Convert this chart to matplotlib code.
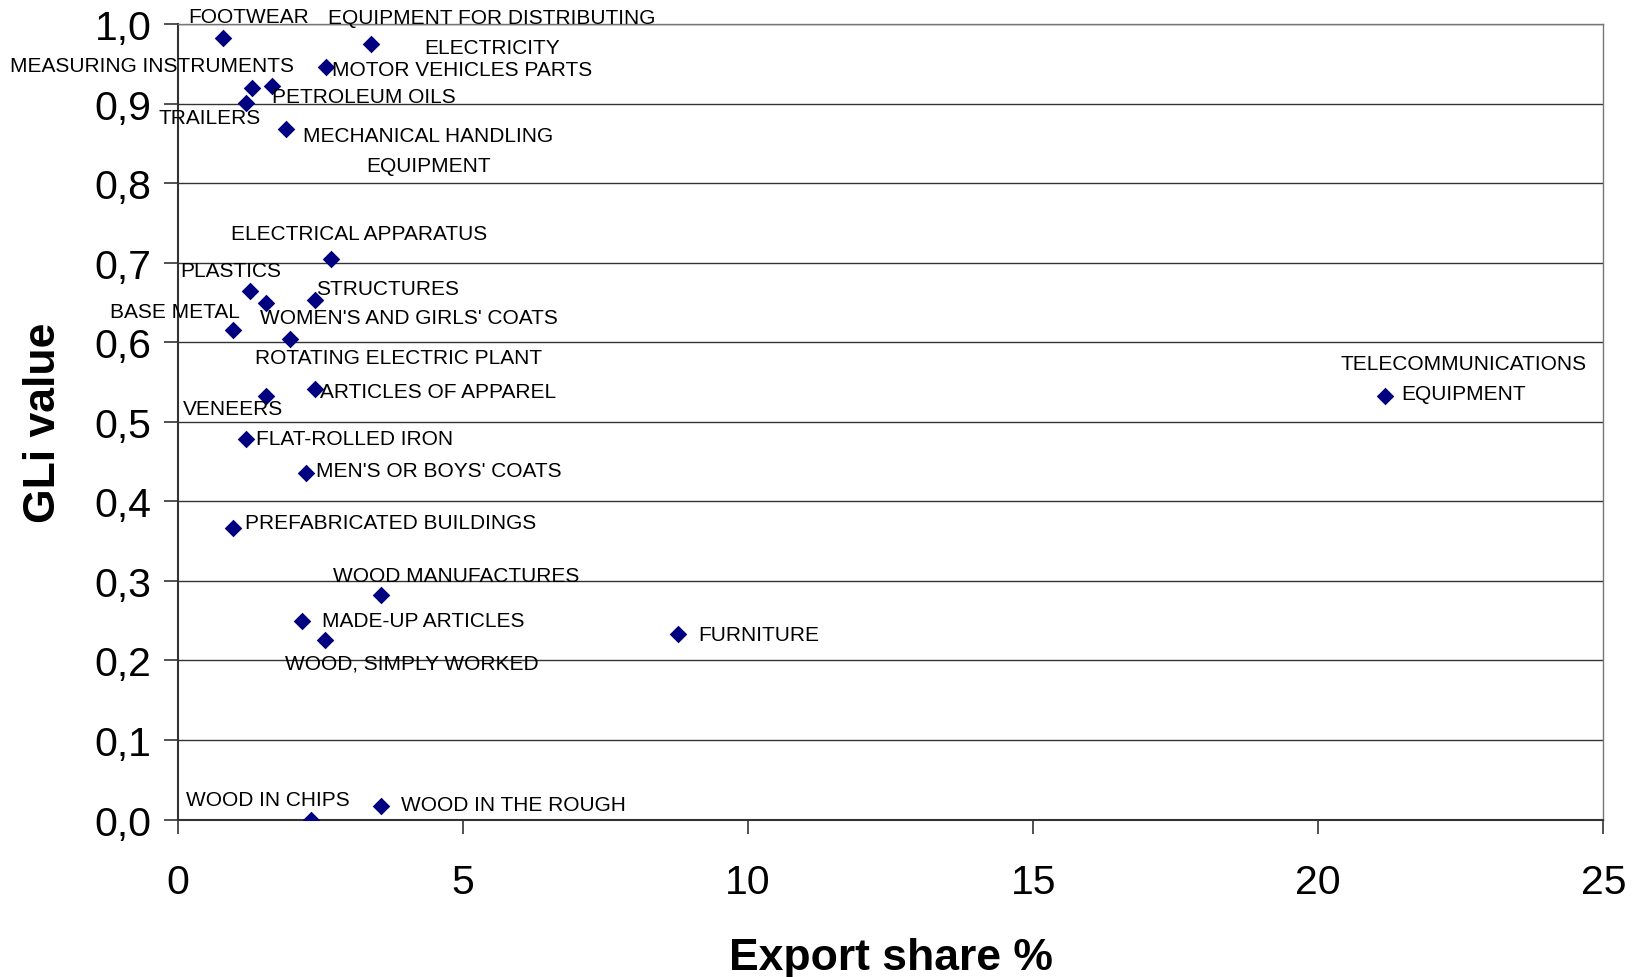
import matplotlib
matplotlib.use('Agg')
import matplotlib.pyplot as plt
from matplotlib.ticker import FuncFormatter

plt.rcParams['font.family'] = ['Liberation Sans', 'DejaVu Sans']

# products, export share (%) and GLi value
products = [
    'FOOTWEAR', 'EQUIPMENT FOR DISTRIBUTING\nELECTRICITY', 'MOTOR VEHICLES PARTS',
    'MEASURING INSTRUMENTS', 'PETROLEUM OILS', 'TRAILERS',
    'MECHANICAL HANDLING\nEQUIPMENT', 'ELECTRICAL APPARATUS', 'PLASTICS',
    'STRUCTURES', "WOMEN'S AND GIRLS' COATS", 'BASE METAL',
    'ROTATING ELECTRIC PLANT', 'ARTICLES OF APPAREL', 'VENEERS',
    'FLAT-ROLLED IRON', "MEN'S OR BOYS' COATS", 'PREFABRICATED BUILDINGS',
    'WOOD MANUFACTURES', 'MADE-UP ARTICLES', 'WOOD, SIMPLY WORKED',
    'FURNITURE', 'TELECOMMUNICATIONS\nEQUIPMENT', 'WOOD IN CHIPS',
    'WOOD IN THE ROUGH',
]
export_share = [0.79, 3.38, 2.59, 1.30, 1.65, 1.19, 1.89, 2.68, 1.27, 2.40,
                1.54, 0.97, 1.96, 2.40, 1.54, 1.19, 2.24, 0.97, 3.56, 2.18,
                2.57, 8.77, 21.18, 2.33, 3.56]
gli = [0.983, 0.975, 0.946, 0.920, 0.922, 0.901, 0.868, 0.705, 0.664, 0.653,
       0.649, 0.616, 0.604, 0.541, 0.533, 0.478, 0.436, 0.366, 0.282, 0.250,
       0.226, 0.233, 0.533, 0.0, 0.017]

# label offsets in points and alignment
offsets = [(-25, 15), (87, 8), (4.5, -1.5), (-174, 16), (0, -7.5), (-63, -10.5),
           (102.5, -15.5), (-72, 18), (-50.5, 15), (0.75, 8.3), (-4.5, -10.5),
           (-89, 13), (-25, -13), (4, -2), (-60, -9), (7, 0.75), (7.5, 1.5),
           (8.3, 4.5), (-34.7, 14.3), (14.3, 0), (-28.7, -16.6), (14.3, 0),
           (56.5, 12), (-90, 14.3), (14.3, 0.75)]
centered = {1, 6, 22}

fig = plt.figure(figsize=(16.41, 9.78), dpi=100)
ax = fig.add_axes([0.1085, 0.161, 0.8685, 0.8134])

ax.scatter(export_share, gli, marker='D', s=80, color='#000080', zorder=3,
           linewidths=0)

for i, name in enumerate(products):
    ax.annotate(name, (export_share[i], gli[i]), xytext=offsets[i],
                textcoords='offset points',
                ha='center' if i in centered else 'left', va='center',
                multialignment='center', linespacing=1.75,
                fontsize=15, annotation_clip=False)

ax.set_xlim(0, 25)
ax.set_ylim(0, 1.0)
ax.set_xticks([0, 5, 10, 15, 20, 25])
ax.set_yticks([i / 10 for i in range(11)])
ax.yaxis.set_major_formatter(FuncFormatter(lambda v, p: f'{v:.1f}'.replace('.', ',')))
ax.tick_params(axis='both', labelsize=29.5, direction='out', length=10, width=1.2,
               color='#333333')
ax.tick_params(axis='x', pad=21)
ax.tick_params(axis='y', pad=9)
ax.grid(axis='y', color='#333333', linewidth=1.0)
ax.set_axisbelow(True)
for s in ['left', 'bottom']:
    ax.spines[s].set_color('#333333')
    ax.spines[s].set_linewidth(1.5)
for s in ['top', 'right']:
    ax.spines[s].set_color('#777777')
    ax.spines[s].set_linewidth(1.0)

ax.set_xlabel('Export share %', fontsize=32, fontweight='bold', labelpad=26)
ax.set_ylabel('GLi value', fontsize=32, fontweight='bold', labelpad=22)

fig.savefig('out.png', dpi=100)
